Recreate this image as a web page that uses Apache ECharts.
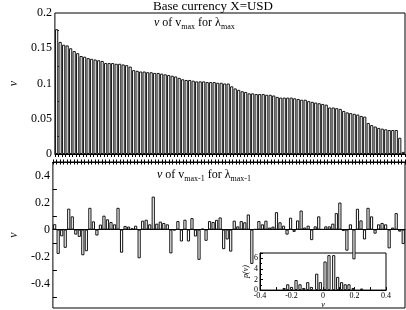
<!DOCTYPE html>
<html><head><meta charset="utf-8">
<script src="https://cdn.jsdelivr.net/npm/echarts@6/dist/echarts.min.js"></script>
<style>html,body{margin:0;padding:0;background:#fff}#c{width:406px;height:310px}</style>
</head><body><div id="c"></div>
<script>
// v of v_max for lambda_max (sorted)
const topVals = [
0.177,0.159,0.155,0.154,0.150,0.146,0.143,0.139,0.138,0.136,
0.135,0.134,0.133,0.132,0.129,0.129,0.129,0.128,0.128,0.127,
0.126,0.124,0.119,0.118,0.117,0.117,0.116,0.116,0.115,0.115,
0.114,0.113,0.112,0.111,0.110,0.108,0.106,0.105,0.105,0.104,
0.103,0.103,0.103,0.102,0.102,0.102,0.101,0.101,0.100,0.100,
0.096,0.093,0.091,0.089,0.088,0.086,0.086,0.085,0.085,0.085,
0.084,0.084,0.083,0.081,0.080,0.080,0.080,0.080,0.079,0.078,
0.077,0.077,0.075,0.074,0.073,0.072,0.071,0.070,0.066,0.066,
0.065,0.064,0.061,0.059,0.058,0.057,0.056,0.054,0.053,0.044,
0.041,0.039,0.037,0.036,0.035,0.034,0.034,0.034,0.023,0.003];
// v of v_max-1 for lambda_max-1
const bottomVals = [
0.040,-0.180,-0.050,-0.135,0.155,0.098,-0.037,-0.054,-0.190,-0.160,
0.161,0.061,-0.044,0.037,0.103,0.076,0.056,0.039,0.161,-0.171,
0.027,0.022,0.010,0.029,-0.212,0.066,0.073,0.039,0.244,0.044,
0.059,0.049,0.039,-0.176,-0.005,0.063,-0.088,0.073,-0.088,0.085,
-0.051,-0.224,0.007,-0.083,0.063,0.056,0.072,0.090,-0.145,-0.073,
-0.163,0.066,0.024,0.063,0.054,0.112,-0.254,0.003,0.063,0.039,
0.066,0.015,0.022,0.129,0.054,0.029,-0.037,0.088,-0.017,0.068,
0.141,0.015,0.029,-0.078,0.024,0.098,0.003,0.024,0.024,0.044,
0.122,0.200,-0.010,-0.156,0.039,-0.220,0.154,0.068,-0.073,0.161,
0.098,-0.030,0.039,0.049,0.039,-0.139,0.015,0.122,-0.015,-0.107];
// histogram of bottomVals (inset)
const binCenters = [-0.247,-0.224,-0.200,-0.171,-0.146,-0.122,-0.097,-0.074,-0.040,-0.017,0.013,0.038,0.068,0.093,0.118,0.141,0.165,0.192,0.245];
const binHeights = [0.4,1.1,0.6,1.9,1.1,0.4,1.5,0.6,3.1,1.5,5.4,6.6,6.6,2.5,1.5,1.1,1.1,0.4,0.3];
const topTicks = [0, 0.05, 0.1, 0.15, 0.2];
const insetXTicks = [-0.4, -0.2, 0, 0.2, 0.4];

const categories = topVals.map((_, i) => String(i + 1));
const F = 'Liberation Serif';
const black = '#000';

const chart = echarts.init(document.getElementById('c'), null, {renderer: 'canvas'});
const lbl = (size) => ({color: black, fontFamily: F, fontSize: size});
const barStyle = {color: '#fff', borderColor: '#111', borderWidth: 1};

chart.setOption({
  animation: false,
  backgroundColor: '#fff',
  grid: [
    {left: 25, right: 1, top: 13, height: 141, show: true, borderColor: black, borderWidth: 1, backgroundColor: 'transparent'},
    {left: 25, right: 1, top: 162, height: 146, show: true, borderColor: black, borderWidth: 1, backgroundColor: 'transparent'},
    {left: 260, top: 253, width: 126, height: 42, show: true, borderColor: black, borderWidth: 1, backgroundColor: 'transparent'}
  ],
  xAxis: [
    {gridIndex: 0, type: 'category', data: categories, boundaryGap: true,
     axisLine: {lineStyle: {color: black}}, axisLabel: {show: false},
     axisTick: {show: true, interval: 0, inside: false, length: 3, lineStyle: {color: black}}, splitLine: {show: false}},
    {gridIndex: 1, type: 'category', data: categories, boundaryGap: true, position: 'bottom',
     axisLine: {onZero: true, lineStyle: {color: black}}, axisLabel: {show: false},
     axisTick: {show: false}, splitLine: {show: false}},
    {gridIndex: 1, type: 'category', data: categories, boundaryGap: true, position: 'top',
     axisLine: {onZero: false, lineStyle: {color: black}}, axisLabel: {show: false},
     axisTick: {show: true, interval: 0, inside: true, length: 2.5, lineStyle: {color: black}}, splitLine: {show: false}},
    {gridIndex: 1, type: 'category', data: categories, boundaryGap: true, position: 'top',
     axisLine: {onZero: false, lineStyle: {color: black}}, axisLabel: {show: false},
     axisTick: {show: true, interval: 0, inside: false, length: 2.5, lineStyle: {color: black}}, splitLine: {show: false}},
    {gridIndex: 2, type: 'value', min: insetXTicks[0], max: insetXTicks[insetXTicks.length - 1], interval: 0.2,
     name: 'v', nameLocation: 'middle', nameGap: 10,
     nameTextStyle: {color: black, fontFamily: F, fontSize: 8, fontStyle: 'italic'},
     axisLine: {onZero: false, lineStyle: {color: black}},
     axisLabel: Object.assign(lbl(8), {margin: 2}),
     axisTick: {inside: true, length: 3, lineStyle: {color: black}},
     minorTick: {show: true, splitNumber: 2, length: 3, lineStyle: {color: black}},
     splitLine: {show: false}}
  ],
  yAxis: [
    {gridIndex: 0, type: 'value', min: topTicks[0], max: topTicks[topTicks.length - 1], interval: 0.05,
     name: 'v', nameLocation: 'middle', nameGap: 17, nameRotate: 90,
     nameTextStyle: {color: black, fontFamily: F, fontSize: 12, fontStyle: 'italic'},
     axisLine: {lineStyle: {color: black}}, axisLabel: Object.assign(lbl(12), {margin: 3}),
     axisTick: {inside: true, length: 4, lineStyle: {color: black}},
     minorTick: {show: true, splitNumber: 2, length: 4, lineStyle: {color: black}},
     splitLine: {show: false}},
    {gridIndex: 1, type: 'value', min: -0.58, max: 0.5, splitNumber: 5,
     name: 'v', nameLocation: 'middle', nameGap: 17, nameRotate: 90,
     nameTextStyle: {color: black, fontFamily: F, fontSize: 12, fontStyle: 'italic'},
     axisLine: {onZero: false, lineStyle: {color: black}},
     axisLabel: Object.assign(lbl(12), {margin: 3, showMinLabel: false, showMaxLabel: false}),
     axisTick: {inside: true, length: 4, lineStyle: {color: black}},
     minorTick: {show: true, splitNumber: 2, length: 4, lineStyle: {color: black}},
     splitLine: {show: false}},
    {gridIndex: 2, type: 'value', min: 0, max: 7, interval: 2,
     name: 'p(v)', nameLocation: 'middle', nameGap: 9, nameRotate: 90,
     nameTextStyle: {color: black, fontFamily: F, fontSize: 8, fontStyle: 'italic'},
     axisLine: {onZero: false, lineStyle: {color: black}},
     axisLabel: Object.assign(lbl(8), {margin: 2, showMaxLabel: false}),
     axisTick: {inside: true, length: 3, lineStyle: {color: black}},
     minorTick: {show: true, splitNumber: 2, length: 2, lineStyle: {color: black}},
     splitLine: {show: false}}
  ],
  series: [
    {type: 'bar', xAxisIndex: 0, yAxisIndex: 0, data: topVals, barWidth: 3.2, itemStyle: barStyle},
    {type: 'bar', xAxisIndex: 1, yAxisIndex: 1, data: bottomVals, barWidth: 3.2, itemStyle: barStyle},
    {type: 'bar', xAxisIndex: 4, yAxisIndex: 2, data: binCenters.map((c, i) => [c, binHeights[i]]), barWidth: 3.2, itemStyle: barStyle}
  ],
  graphic: [
    {type: 'text', left: 153, top: 0, style: {text: 'Base currency X=USD', fill: black, font: '13px "Liberation Serif"'}},
    {type: 'text', left: 154, top: 17, style: {
      text: '{i|v}{n| of v}{s|max}{n| for λ}{s|max}',
      rich: {
        i: {fontFamily: F, fontSize: 12, fontStyle: 'italic', fill: black, lineHeight: 16, verticalAlign: 'middle'},
        n: {fontFamily: F, fontSize: 12, fill: black, lineHeight: 16, verticalAlign: 'middle'},
        s: {fontFamily: F, fontSize: 8, fill: black, lineHeight: 16, verticalAlign: 'bottom', padding: [6, 0, 0, 0]}
      }}},
    {type: 'text', left: 157, top: 169, style: {
      text: '{i|v}{n| of v}{s|max-1}{n| for λ}{s|max-1}',
      rich: {
        i: {fontFamily: F, fontSize: 12, fontStyle: 'italic', fill: black, lineHeight: 16, verticalAlign: 'middle'},
        n: {fontFamily: F, fontSize: 12, fill: black, lineHeight: 16, verticalAlign: 'middle'},
        s: {fontFamily: F, fontSize: 8, fill: black, lineHeight: 16, verticalAlign: 'bottom', padding: [6, 0, 0, 0]}
      }}}
  ]
});
</script></body></html>
